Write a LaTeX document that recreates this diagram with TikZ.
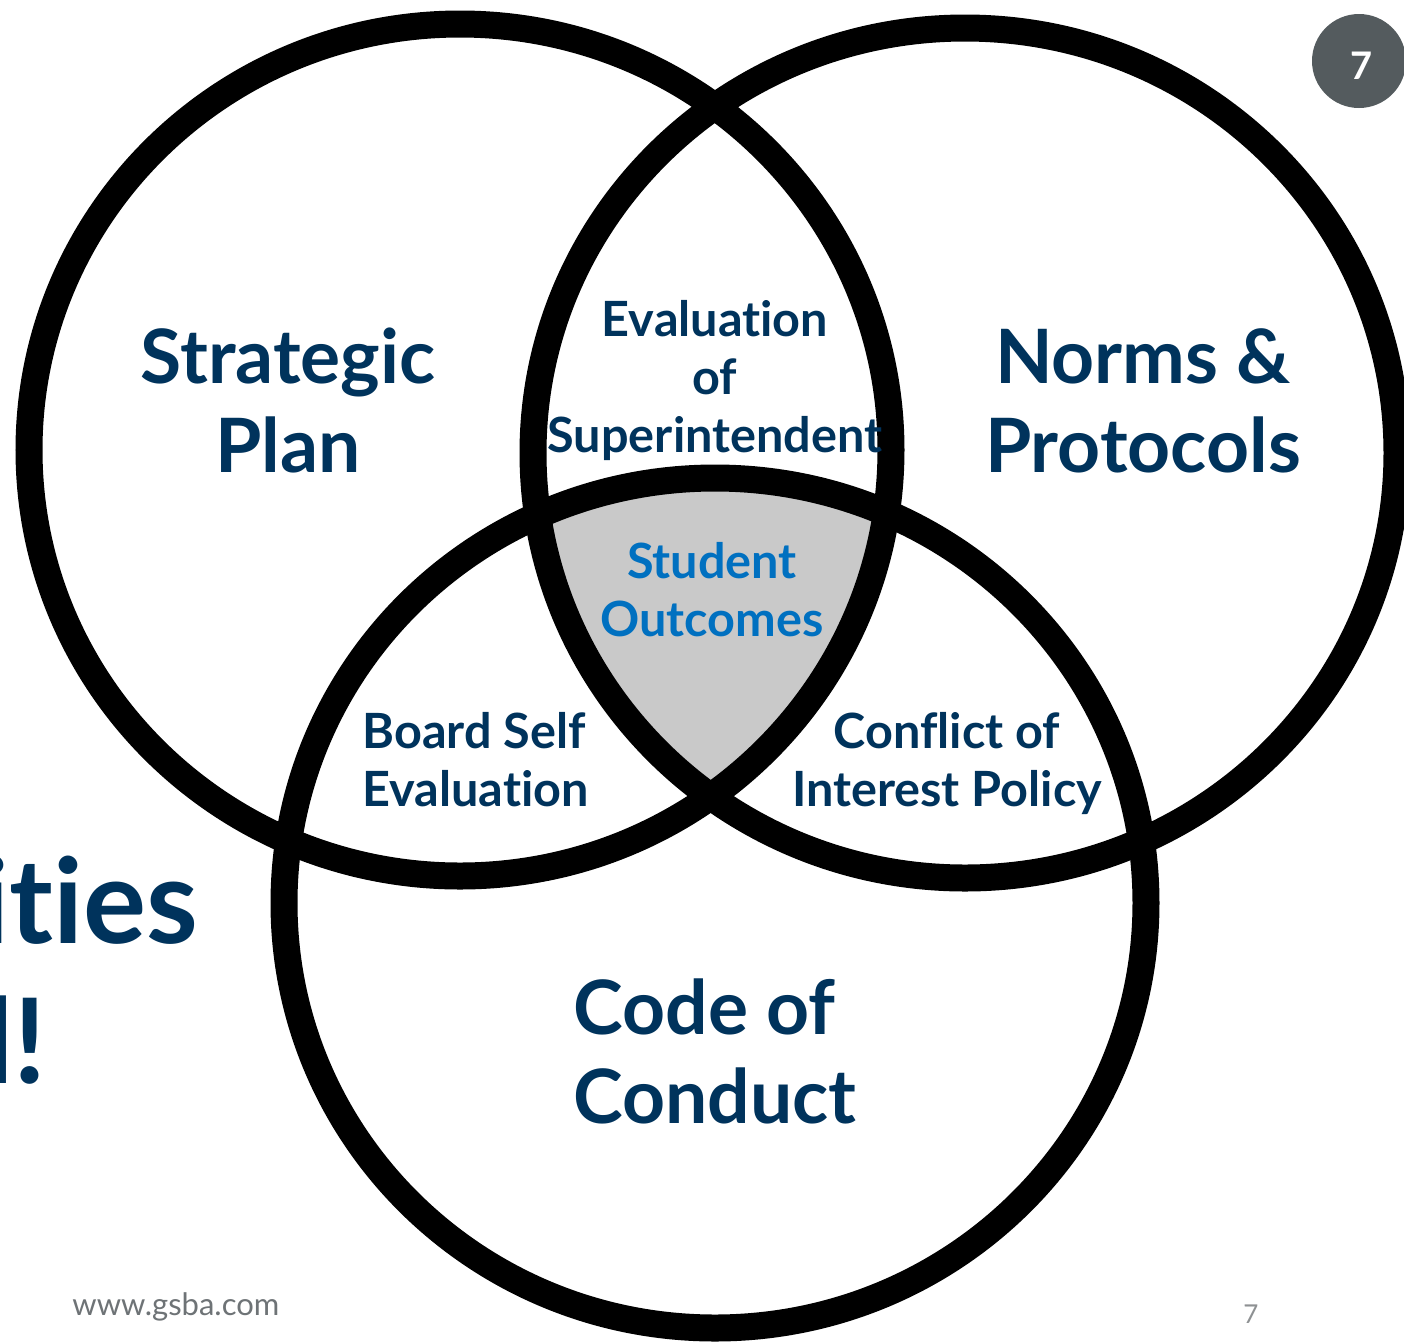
\documentclass[tikz,border=0pt]{standalone}
\usepackage{fontspec}
\setmainfont{Lato}[Ligatures={NoCommon}]
\definecolor{navy}{HTML}{00335C}
\definecolor{outcome}{HTML}{0070C0}
\definecolor{overlap}{HTML}{C9C9C9}
\definecolor{badge}{HTML}{545B5E}
\definecolor{footer}{HTML}{6E7376}
\definecolor{pagenum}{HTML}{8E9193}
\begin{document}
\begin{tikzpicture}[x=0.5pt,y=-0.5pt,
  ring/.style={draw=black,line width=13.5pt},
  biglabel/.style={text=navy,inner sep=0pt,anchor=base,
    font=\bfseries\fontsize{37.5}{44.5}\selectfont},
  midlabel/.style={text=navy,inner sep=0pt,anchor=base,
    font=\bfseries\fontsize{24.3}{29}\selectfont}]
\path[use as bounding box,clip] (0,0) rectangle (1404,1341);
\fill[white] (0,0) rectangle (1404,1341);

% shared region of all three sets
\begin{scope}
  \clip (460,450) ellipse [x radius=431,y radius=426];
  \clip (965,453) ellipse [x radius=432,y radius=425];
  \fill[overlap] (715,903) ellipse [x radius=431,y radius=425];
\end{scope}

% the three sets
\draw[ring] (460,450) ellipse [x radius=431,y radius=426];
\draw[ring] (965,453) ellipse [x radius=432,y radius=425];
\draw[ring] (715,903) ellipse [x radius=431,y radius=425];

% set labels (anchored at the baseline of the last line)
\node[biglabel,align=center] (plan) at (288,472) {Strategic\\Plan};
\node[biglabel,align=center] (norms) at (1143,472) {Norms \&\\Protocols};
\node[biglabel,align=left,anchor=base west] (code) at (573,1123) {Code of\\Conduct};

% overlap labels
\node[midlabel,align=center] (supt) at (715,452) {Evaluation\\of\\Superintendent};
\node[midlabel,align=left,anchor=base west] (self) at (362,806) {Board Self\\Evaluation};
\node[midlabel,align=center] (coi) at (947,806) {Conflict of\\Interest Policy};
\node[midlabel,align=center,text=outcome] (outc) at (712,636) {Student\\Outcomes};

% slide title fragments at the left edge
\node[text=navy,inner sep=0pt,anchor=base east,
  font=\bfseries\fontsize{59}{70}\selectfont] (title1) at (199,943) {ities};
\node[text=navy,inner sep=0pt,anchor=base east,
  font=\bfseries\fontsize{59}{70}\selectfont] (title2) at (47,1083) {l!};

% slide badge and footer
\fill[badge] (1359,61) circle [radius=47];
\node[text=white,inner sep=0pt,font=\bfseries\fontsize{19}{22}\selectfont] (badgenum) at (1362,66) {7};
\node[text=footer,inner sep=0pt,anchor=base west,
  font=\fontsize{15.5}{19}\selectfont] (url) at (72,1315) {www.gsba.com};
\node[text=pagenum,inner sep=0pt,anchor=base,
  font=\fontsize{13}{16}\selectfont] (page) at (1251,1323) {7};
\end{tikzpicture}
\end{document}
